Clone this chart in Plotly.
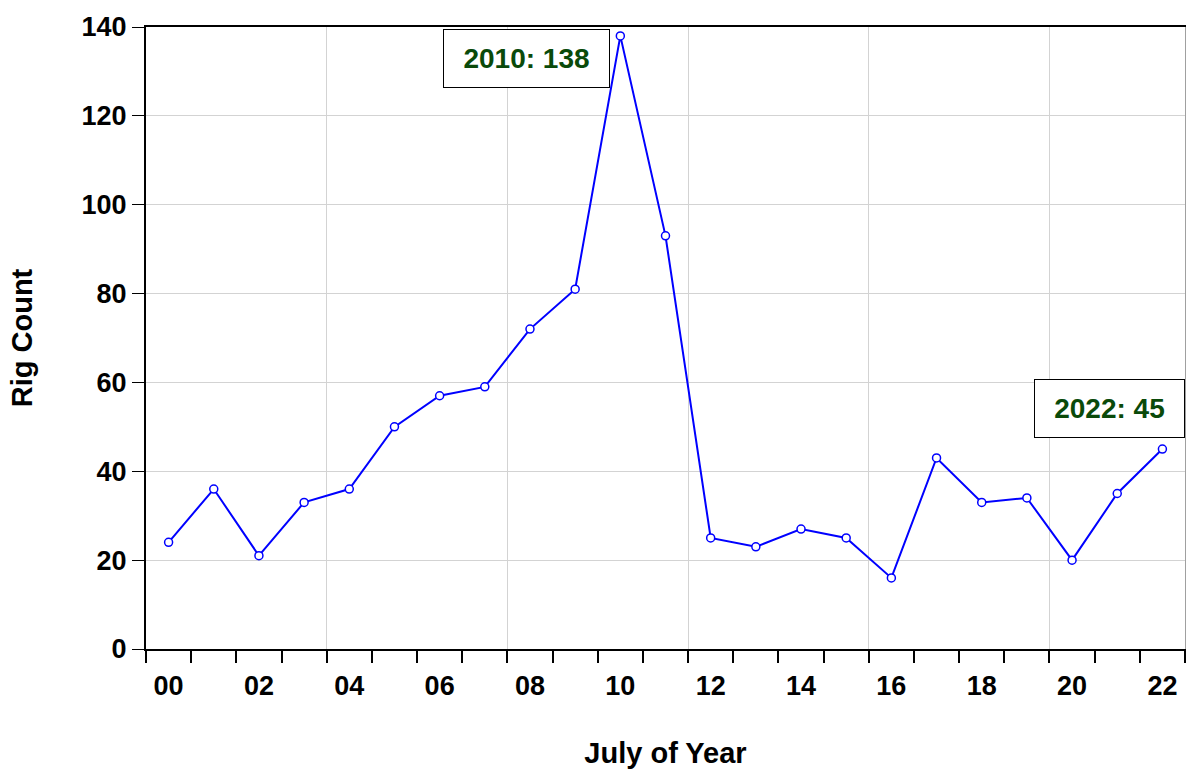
import plotly.graph_objects as go

# July rig count by year
years = list(range(2000, 2023))
rigs = [24, 36, 21, 33, 36, 50, 57, 59, 72, 81, 138, 93,
        25, 23, 27, 25, 16, 43, 33, 34, 20, 35, 45]
tick_years = list(range(2000, 2023, 2))
tick_text = ["%02d" % (y % 100) for y in tick_years]
y_ticks = list(range(0, 141, 20))
grid_years = [2004, 2008, 2012, 2016, 2020]

xmid = [y + 0.5 for y in years]  # July ~ middle of year

FONT = "Liberation Sans, Arial, sans-serif"

fig = go.Figure()
fig.add_trace(go.Scatter(
    x=xmid, y=rigs, mode="lines+markers",
    line=dict(color="#0000ff", width=2),
    marker=dict(symbol="circle", size=8, color="white",
                line=dict(color="#0000ff", width=1.5)),
    showlegend=False, hoverinfo="skip",
))
# invisible trace to activate overlay axes
fig.add_trace(go.Scatter(x=[2000], y=[0], xaxis="x2", yaxis="y2",
                         mode="markers", marker=dict(opacity=0),
                         showlegend=False, hoverinfo="skip"))

fig.update_layout(
    width=1186, height=769,
    margin=dict(l=146, r=1, t=27, b=120),
    plot_bgcolor="white", paper_bgcolor="white",
    font=dict(family=FONT, size=27, color="black"),
    xaxis=dict(
        range=[2000, 2023], tickvals=[y + 0.5 for y in tick_years],
        ticktext=["<b>%s</b>" % t for t in tick_text],
        ticks="outside", ticklen=12, tickcolor="rgba(0,0,0,0)",
        showgrid=False, zeroline=False,
        showline=True, linecolor="black", linewidth=2, mirror=True,
        minor=dict(dtick=1, tick0=2000, ticks="outside", ticklen=12,
                   tickcolor="black", tickwidth=1.5, showgrid=False),
        tickfont=dict(size=27),
        title=dict(text="<b>July of Year</b>", standoff=44, font=dict(size=29)),
    ),
    xaxis2=dict(
        range=[2000, 2023], overlaying="x", tickvals=grid_years,
        showticklabels=False, ticks="", showgrid=True,
        gridcolor="#d3d3d3", gridwidth=1, zeroline=False, showline=False,
    ),
    yaxis=dict(
        range=[0, 140], tickvals=y_ticks,
        ticktext=["<b>%d</b>" % v for v in y_ticks],
        ticks="outside", ticklen=12, tickcolor="black", tickwidth=1,
        showgrid=True, gridcolor="#d3d3d3", gridwidth=1, zeroline=False,
        showline=True, linecolor="black", linewidth=2,
        tickfont=dict(size=27),
        title=dict(text="<b>Rig Count</b>", standoff=40, font=dict(size=29)),
    ),
    yaxis2=dict(
        range=[0, 140], overlaying="y", side="right", showticklabels=False,
        ticks="", showgrid=False, zeroline=False,
        showline=True, linecolor="#a0a0a0", linewidth=1,
    ),
)

ann_font = dict(family=FONT, size=28, color="#0a4a0a")
peak_i = rigs.index(max(rigs))
last_i = len(rigs) - 1
for lab_x, lab_y, i, w in [(2008.42, 132.8, peak_i, 163), (2021.33, 54.1, last_i, 147)]:
    fig.add_annotation(
        x=lab_x, y=lab_y, xref="x", yref="y",
        text="<b>%d: %d</b>" % (years[i], rigs[i]),
        showarrow=False, font=ann_font,
        bordercolor="black", borderwidth=1, bgcolor="white",
        width=w, height=55,
    )

fig.write_html("out.html", config={"displayModeBar": False},
               post_script="document.body.style.margin='0';")
